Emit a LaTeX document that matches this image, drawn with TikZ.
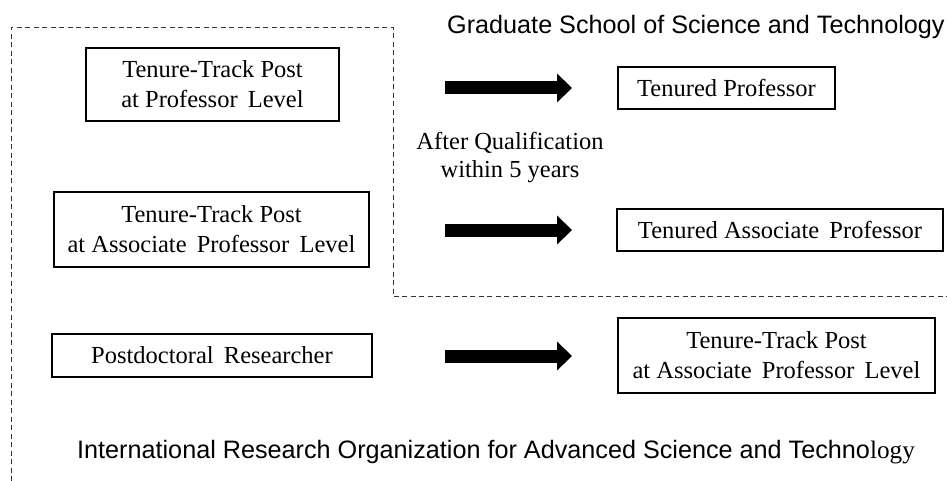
\documentclass[tikz,border=0pt]{standalone}
\usepackage{fontspec}
\setmainfont{Liberation Serif}
\setsansfont{Liberation Sans}
\usetikzlibrary{arrows.meta}
\begin{document}
\begin{tikzpicture}[x=1pt,y=-1pt,
  box/.style={draw=black, line width=1.1pt, align=center, inner sep=0pt,
    font=\fontsize{24.5}{30}\selectfont},
  lbl/.style={align=center, inner sep=0pt, font=\fontsize{24.5}{28}\selectfont},
  title/.style={inner sep=0pt, font=\sffamily\fontsize{25.2}{30}\selectfont},
  fat/.style={line width=13pt, -{Triangle[length=15pt,width=29pt,line width=0pt]}},
  region/.style={draw=black!80, line width=1pt, dash pattern=on 5pt off 3.5pt}]
\useasboundingbox (0,0) rectangle (947,481);

% region border
\draw[region] (11,481) -- (11,27.5) -- (393,27.5) -- (393,296.5) -- (947,296.5);

% titles
\node[title, anchor=base west] (gs) at (447,34) {Graduate School of Science and Technology};
\node[title, anchor=base west] (iro) at (77,458) {International Research Organization for Advanced Science and Techno{\rmfamily logy}};

% boxes
\node[box, minimum width=253pt, minimum height=73pt] (ttp) at (212.5,84.5)
  {Tenure-Track Post\\at Professor\,\ Level};
\node[box, minimum width=315pt, minimum height=75pt] (tta) at (211.5,229.5)
  {Tenure-Track Post\\at Associate\,\ Professor\,\ Level};
\node[box, minimum width=320pt, minimum height=43pt] (pd) at (212,355.5)
  {Postdoctoral\,\ Researcher};
\node[box, minimum width=217pt, minimum height=42pt] (tp) at (726.5,88)
  {Tenured Professor};
\node[box, minimum width=326pt, minimum height=42pt] (tap) at (780,230)
  {Tenured Associate\,\ Professor};
\node[box, minimum width=317pt, minimum height=75pt] (tta2) at (776.5,355.5)
  {Tenure-Track Post\\at Associate\,\ Professor\,\ Level};

\node[lbl] (aq) at (510,158) {After Qualification\\within 5 years};

% arrows
\coordinate (a1s) at (445,88);  \coordinate (a1e) at (572,88);
\coordinate (a2s) at (445,230); \coordinate (a2e) at (572,230);
\coordinate (a3s) at (445,356); \coordinate (a3e) at (572,356);
\draw[fat] (a1s) -- (a1e);
\draw[fat] (a2s) -- (a2e);
\draw[fat] (a3s) -- (a3e);
\end{tikzpicture}
\end{document}
